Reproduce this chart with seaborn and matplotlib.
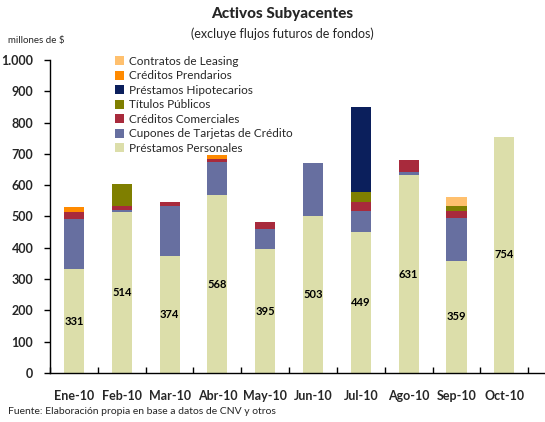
import matplotlib
matplotlib.use("Agg")
import matplotlib.pyplot as plt
import seaborn as sns
import numpy as np
import pandas as pd
from matplotlib.ticker import FixedLocator, FuncFormatter
from matplotlib.patches import Patch

months = ["Ene-10", "Feb-10", "Mar-10", "Abr-10", "May-10", "Jun-10",
          "Jul-10", "Ago-10", "Sep-10", "Oct-10"]
personales = [331, 514, 374, 568, 395, 503, 449, 631, 359, 754]
cupones = [160, 8, 158, 105, 64, 167, 67, 10, 135, 0]
comerciales = [22, 10, 13, 10, 22, 0, 29, 41, 25, 0]
titulos = [0, 71, 0, 0, 0, 0, 32, 0, 16, 0]
hipotecarios = [0, 0, 0, 0, 0, 0, 272, 0, 0, 0]
prendarios = [16, 0, 0, 14, 0, 0, 0, 0, 0, 0]
leasing = [0, 0, 0, 0, 0, 0, 0, 0, 26, 0]

series_names = ["Préstamos Personales", "Cupones de Tarjetas de Crédito",
                "Créditos Comerciales", "Títulos Públicos",
                "Préstamos Hipotecarios", "Créditos Prendarios",
                "Contratos de Leasing"]
series_vals = [personales, cupones, comerciales, titulos, hipotecarios,
               prendarios, leasing]
colors = ["#DCDEAA", "#676FA0", "#A82A3C", "#7F7F00", "#0B1F5C",
          "#FF8A00", "#FFC06E"]

sns.set_theme(style="white")
plt.rcParams['font.family'] = ['Lato', 'DejaVu Sans']

fig = plt.figure(figsize=(5.45, 4.22), dpi=100)
ax = fig.add_axes([50/545, 1-373/422, 1-50/545, 313/422])

bottom = np.zeros(len(months))
for name, vals, col in zip(series_names, series_vals, colors):
    df = pd.DataFrame({"mes": months, "v": vals})
    sns.barplot(data=df, x="mes", y="v", order=months, color=col,
                width=0.42, bottom=bottom.copy(), linewidth=0,
                saturation=1, ax=ax, errorbar=None)
    bottom += np.array(vals)

for i, v in enumerate(personales):
    ax.text(i, v/2, str(v), ha="center", va="center", fontsize=8,
            fontweight="bold", color="black")

ax.set_ylim(0, 1000)
ax.set_xlim(-0.5, 9.85)
ax.set_xlabel("")
ax.set_ylabel("")
ax.yaxis.set_major_locator(FixedLocator(np.arange(0, 1001, 100)))
ax.yaxis.set_major_formatter(FuncFormatter(lambda v, p: f"{int(v):,}".replace(",", ".")))
ax.set_xticks(range(len(months)))
ax.set_xticklabels(months)
ax.xaxis.set_minor_locator(FixedLocator(np.arange(-0.5, 9.6, 1.0)))
ax.tick_params(axis="x", which="major", length=0, pad=12, labelsize=9)
ax.tick_params(axis="x", which="minor", direction="in", length=4,
               width=1, color="black", bottom=True)
ax.tick_params(axis="y", which="major", direction="out", length=4,
               width=1, color="black", left=True, labelsize=9, pad=8)
for lab in ax.get_xticklabels() + ax.get_yticklabels():
    lab.set_fontweight("bold")
for s in ["top", "right"]:
    ax.spines[s].set_visible(False)
for s in ["left", "bottom"]:
    ax.spines[s].set_color("black")
    ax.spines[s].set_linewidth(1)

handles = [Patch(facecolor=c, edgecolor="none", label=n)
           for n, c in zip(series_names[::-1], colors[::-1])]
leg = fig.legend(handles=handles, loc="upper left",
                 bbox_to_anchor=(110/545, 1-51/422), frameon=False,
                 fontsize=8.5, handlelength=0.8, handleheight=0.8,
                 handletextpad=0.4, labelspacing=0.3, borderaxespad=0)

fig.text(282/545, 1-14/422, "Activos Subyacentes", ha="center", va="center",
         fontsize=11, fontweight="black")
fig.text(282/545, 1-34/422, "(excluye flujos futuros de fondos)", ha="center",
         va="center", fontsize=9)
fig.text(8/545, 1-40/422, "millones de $", ha="left", va="center", fontsize=7)
fig.text(8/545, 1-411/422, "Fuente: Elaboración propia en base a datos de CNV y otros",
         ha="left", va="center", fontsize=7.5)

fig.savefig("out.png", dpi=100)
